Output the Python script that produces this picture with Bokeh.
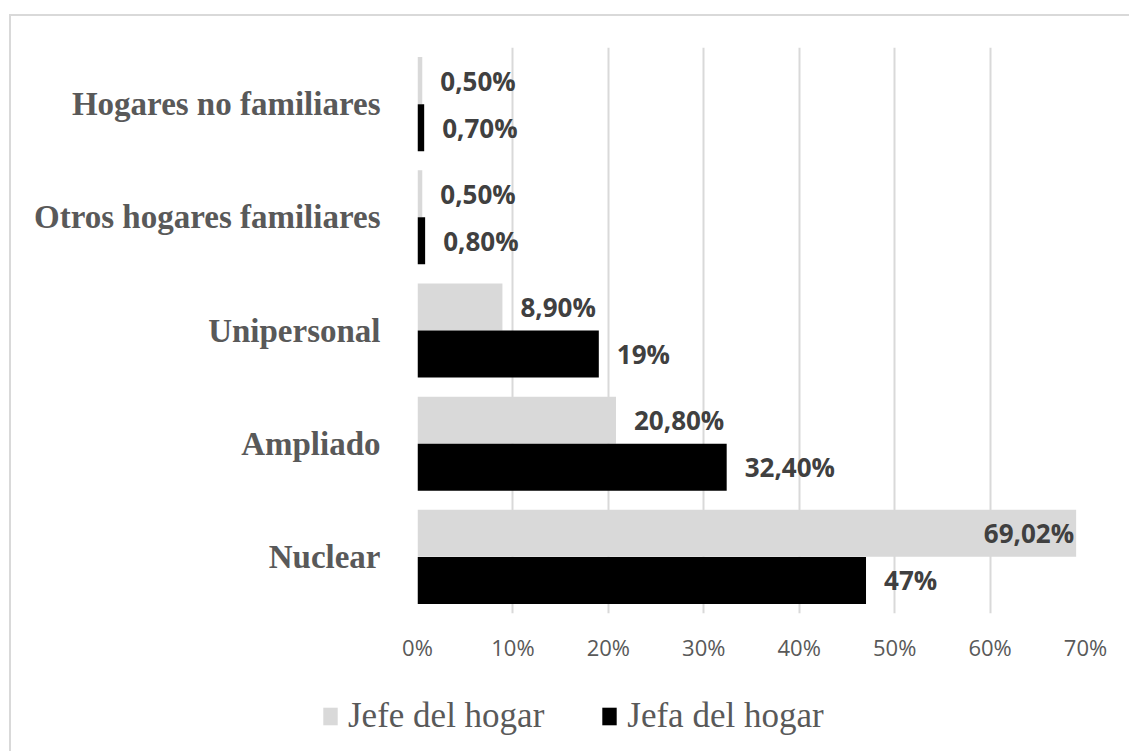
from bokeh.plotting import figure
from bokeh.layouts import column
from bokeh.models import (ColumnDataSource, FactorRange, Range1d, Legend, LegendItem,
                          PrintfTickFormatter, FixedTicker, InlineStyleSheet)
from bokeh.core.properties import value
from bokeh.transform import dodge
from bokeh.embed import file_html
from bokeh.resources import INLINE

categories = ["Nuclear", "Ampliado", "Unipersonal", "Otros hogares familiares", "Hogares no familiares"]
jefe = [69.02, 20.80, 8.90, 0.50, 0.50]
jefa = [47.0, 32.40, 19.0, 0.80, 0.70]
jefe_labels = ["69,02%", "20,80%", "8,90%", "0,50%", "0,50%"]
jefa_labels = ["47%", "32,40%", "19%", "0,80%", "0,70%"]
series_names = ["Jefe del hogar", "Jefa del hogar"]
x_ticks = [0, 10, 20, 30, 40, 50, 60, 70]

GREY = "#d9d9d9"
BLACK = "#000000"
TXT = "#595959"
LAB = "#404040"

def label_cols(vals):
    align = ["right" if v > 60 else "left" for v in vals]
    off = [-2 if v > 60 else 18 for v in vals]
    return align, off

ja, jo = label_cols(jefe)
fa, fo = label_cols(jefa)

src_jefe = ColumnDataSource(dict(cat=categories, v=jefe, lab=jefe_labels, al=ja, off=jo))
src_jefa = ColumnDataSource(dict(cat=categories, v=jefa, lab=jefa_labels, al=fa, off=fo))

p = figure(width=1121, height=680, y_range=FactorRange(*categories), x_range=Range1d(0, 70),
           output_backend="svg", toolbar_location=None,
           min_border_left=417, min_border_right=36, min_border_top=47, min_border_bottom=67)
p.outline_line_color = None
p.frame_align = False

p.hbar(y=dodge("cat", 0.208, range=p.y_range), right="v", left=0, height=0.415,
       source=src_jefe, fill_color=GREY, line_color=None)
p.hbar(y=dodge("cat", -0.208, range=p.y_range), right="v", left=0, height=0.415,
       source=src_jefa, fill_color=BLACK, line_color=None)

for src, dy in ((src_jefe, 0.208), (src_jefa, -0.208)):
    p.text(x="v", y=dodge("cat", dy, range=p.y_range), text="lab", source=src,
           text_align="al", x_offset="off", text_baseline="middle",
           text_font=value("Open Sans"), text_font_style="bold", text_font_size="26px",
           text_color=LAB)

p.xgrid.grid_line_color = GREY
p.xgrid.grid_line_width = 2
p.ygrid.grid_line_color = None
p.xaxis.ticker = FixedTicker(ticks=x_ticks)
p.xaxis.formatter = PrintfTickFormatter(format="%d%%")
p.xaxis.axis_line_color = None
p.xaxis.major_tick_line_color = None
p.xaxis.minor_tick_line_color = None
p.xaxis.major_tick_in = 0
p.xaxis.major_tick_out = 0
p.xaxis.major_label_text_font = "Open Sans"
p.xaxis.major_label_text_font_size = "22px"
p.xaxis.major_label_text_color = TXT
p.xaxis.major_label_standoff = 18

p.yaxis.axis_line_color = None
p.yaxis.major_tick_line_color = None
p.yaxis.major_tick_in = 0
p.yaxis.major_tick_out = 0
p.yaxis.major_label_text_font = "Liberation Serif"
p.yaxis.major_label_text_font_style = "bold"
p.yaxis.major_label_text_font_size = "33px"
p.yaxis.major_label_text_color = TXT
p.yaxis.major_label_standoff = 37

# legend strip (proxy renderers sit outside the visible range)
pl = figure(width=1121, height=63, x_range=Range1d(0, 1), y_range=Range1d(0, 1),
            output_backend="svg", toolbar_location=None, x_axis_type=None, y_axis_type=None,
            min_border=0)
pl.outline_line_color = None
pl.frame_align = False
pl.grid.visible = False
e1 = pl.hbar(y=[-5], right=[jefe[0]], height=0.4, fill_color=GREY, line_color=None)
e2 = pl.hbar(y=[-5], right=[jefa[0]], height=0.4, fill_color=BLACK, line_color=None)
legend = Legend(items=[LegendItem(label=series_names[0], renderers=[e1]),
                       LegendItem(label=series_names[1], renderers=[e2])],
                orientation="horizontal", location=(321, 7),
                label_text_font="Liberation Serif", label_text_font_size="35px",
                label_text_color=TXT, glyph_width=18, glyph_height=22,
                label_standoff=9, spacing=56, padding=0, margin=0,
                border_line_color=None, background_fill_alpha=0)
pl.add_layout(legend, "center")

lay = column(p, pl, spacing=0)
lay.stylesheets = [InlineStyleSheet(css=":host::after { content: ''; position: absolute; left: 9px; top: 14px; width: 1200px; height: 1000px; border: 2px solid #d9d9d9; pointer-events: none; box-sizing: border-box; }")]

open("out.html", "w").write(file_html(lay, INLINE))
